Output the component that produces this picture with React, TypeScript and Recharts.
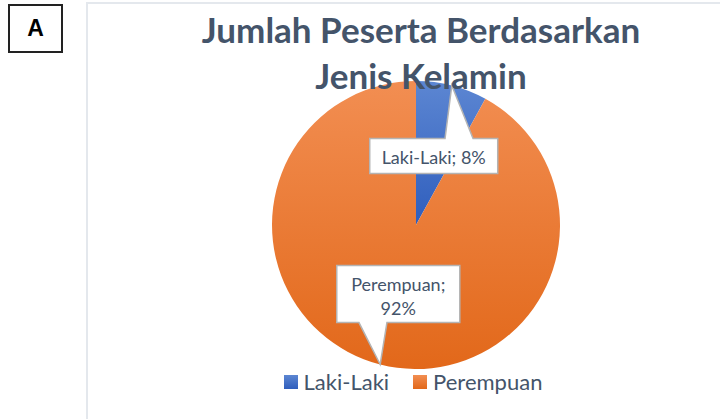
import { PieChart, Pie, Cell, Legend } from 'recharts';

const CATEGORIES = ['Laki-Laki', 'Perempuan'];
const PERCENTS = [8, 92];
const TITLE_LINES = ['Jumlah Peserta Berdasarkan', 'Jenis Kelamin'];

const data = CATEGORIES.map((name, i) => ({ name, value: PERCENTS[i] }));

const GRADIENTS = [
  { id: 'gradBlue', top: '#5C86D2', bottom: '#2F5EBD' },
  { id: 'gradOrange', top: '#F28E52', bottom: '#E2681A' },
];

const TEXT = '#44546A';
const RADIAN = Math.PI / 180;

const renderCallout = (props: any) => {
  const { cx, cy, midAngle, outerRadius, name, percent } = props;
  const cos = Math.cos(midAngle * RADIAN);
  const sin = Math.sin(midAngle * RADIAN);
  const tipX = cx + outerRadius * cos;
  const tipY = cy - outerRadius * sin;
  const bx = cx + outerRadius * 0.495 * cos;
  const by = cy - outerRadius * 0.495 * sin;

  const pct = Math.round(percent * 100) + '%';
  const full = name + '; ' + pct;
  // labels longer than the box allows wrap onto two lines
  const lines = full.length > 13 ? [name + ';', pct] : [full];
  const w = lines.length > 1 ? 123 : 128;
  const h = lines.length > 1 ? 57 : 35;
  const left = bx - w / 2;
  const right = bx + w / 2;
  const top = by - h / 2;
  const bottom = by + h / 2;

  let baseC = bx + (tipX - bx) * 1.4;
  baseC = Math.max(left + 16, Math.min(right - 16, baseC));
  const b1 = baseC - 14;
  const b2 = baseC + 14;

  const d = tipY < top
    ? `M${left},${top} L${b1},${top} L${tipX},${tipY} L${b2},${top} L${right},${top} L${right},${bottom} L${left},${bottom} Z`
    : `M${left},${top} L${right},${top} L${right},${bottom} L${b2},${bottom} L${tipX},${tipY} L${b1},${bottom} L${left},${bottom} Z`;

  return (
    <g>
      <path d={d} fill="#fff" stroke="#B4B4B4" strokeWidth={1.5} />
      {lines.map((t, i) => (
        <text
          key={i}
          x={bx}
          y={by + (lines.length > 1 ? (i === 0 ? -10 : 14) : 1)}
          textAnchor="middle"
          dominantBaseline="central"
          fontFamily="Lato, sans-serif"
          fontSize={18}
          fill={TEXT}
        >
          {t}
        </text>
      ))}
    </g>
  );
};

const renderLegend = () => (
  <div style={{ display: 'flex', justifyContent: 'center', gap: 24, fontFamily: 'Lato, sans-serif' }}>
    {data.map((d, i) => (
      <div key={d.name} style={{ display: 'flex', alignItems: 'center', gap: 6 }}>
        <span
          style={{
            width: 14,
            height: 14,
            display: 'inline-block',
            background: `linear-gradient(${GRADIENTS[i].top}, ${GRADIENTS[i].bottom})`,
          }}
        />
        <span style={{ fontSize: 22, color: TEXT }}>{d.name}</span>
      </div>
    ))}
  </div>
);

export default function App() {
  return (
    <div style={{ position: 'absolute', top: 0, left: 0, width: 720, height: 419, background: '#fff', overflow: 'hidden' }}>
      <div
        style={{
          position: 'absolute', left: 8, top: 4, width: 55, height: 49,
          border: '2px solid #222', boxSizing: 'border-box',
          display: 'flex', alignItems: 'center', justifyContent: 'center',
          fontFamily: 'Liberation Sans, Arial, sans-serif', fontWeight: 700, fontSize: 23,
        }}
      >
        A
      </div>
      <div
        style={{
          position: 'absolute', left: 86, top: 2, width: 700, height: 500,
          borderLeft: '2px solid #E4E8ED', borderTop: '2px solid #E4E8ED',
        }}
      />
      <PieChart
        width={720}
        height={419}
        margin={{ top: 0, right: 0, bottom: 0, left: 0 }}
        style={{ position: 'absolute', left: 0, top: 0 }}
      >
        <defs>
          {GRADIENTS.map((g) => (
            <linearGradient key={g.id} id={g.id} x1="0" y1="0" x2="0" y2="1">
              <stop offset="0%" stopColor={g.top} />
              <stop offset="100%" stopColor={g.bottom} />
            </linearGradient>
          ))}
        </defs>
        <Pie
          data={data}
          dataKey="value"
          nameKey="name"
          cx={416}
          cy={225}
          outerRadius={144}
          startAngle={90}
          endAngle={-270}
          stroke="none"
          label={renderCallout}
          labelLine={false}
          isAnimationActive={false}
        >
          {data.map((_, i) => (
            <Cell key={i} fill={`url(#${GRADIENTS[i].id})`} />
          ))}
        </Pie>
        <Legend content={renderLegend} wrapperStyle={{ top: 368, left: 106, width: 614 }} />
      </PieChart>
      <div
        style={{
          position: 'absolute', left: 86, top: 6, width: 670, textAlign: 'center',
          fontFamily: 'Lato, sans-serif', fontWeight: 700, fontSize: 35, lineHeight: '46px', color: TEXT,
        }}
      >
        {TITLE_LINES.map((t) => (
          <div key={t}>{t}</div>
        ))}
      </div>
    </div>
  );
}
